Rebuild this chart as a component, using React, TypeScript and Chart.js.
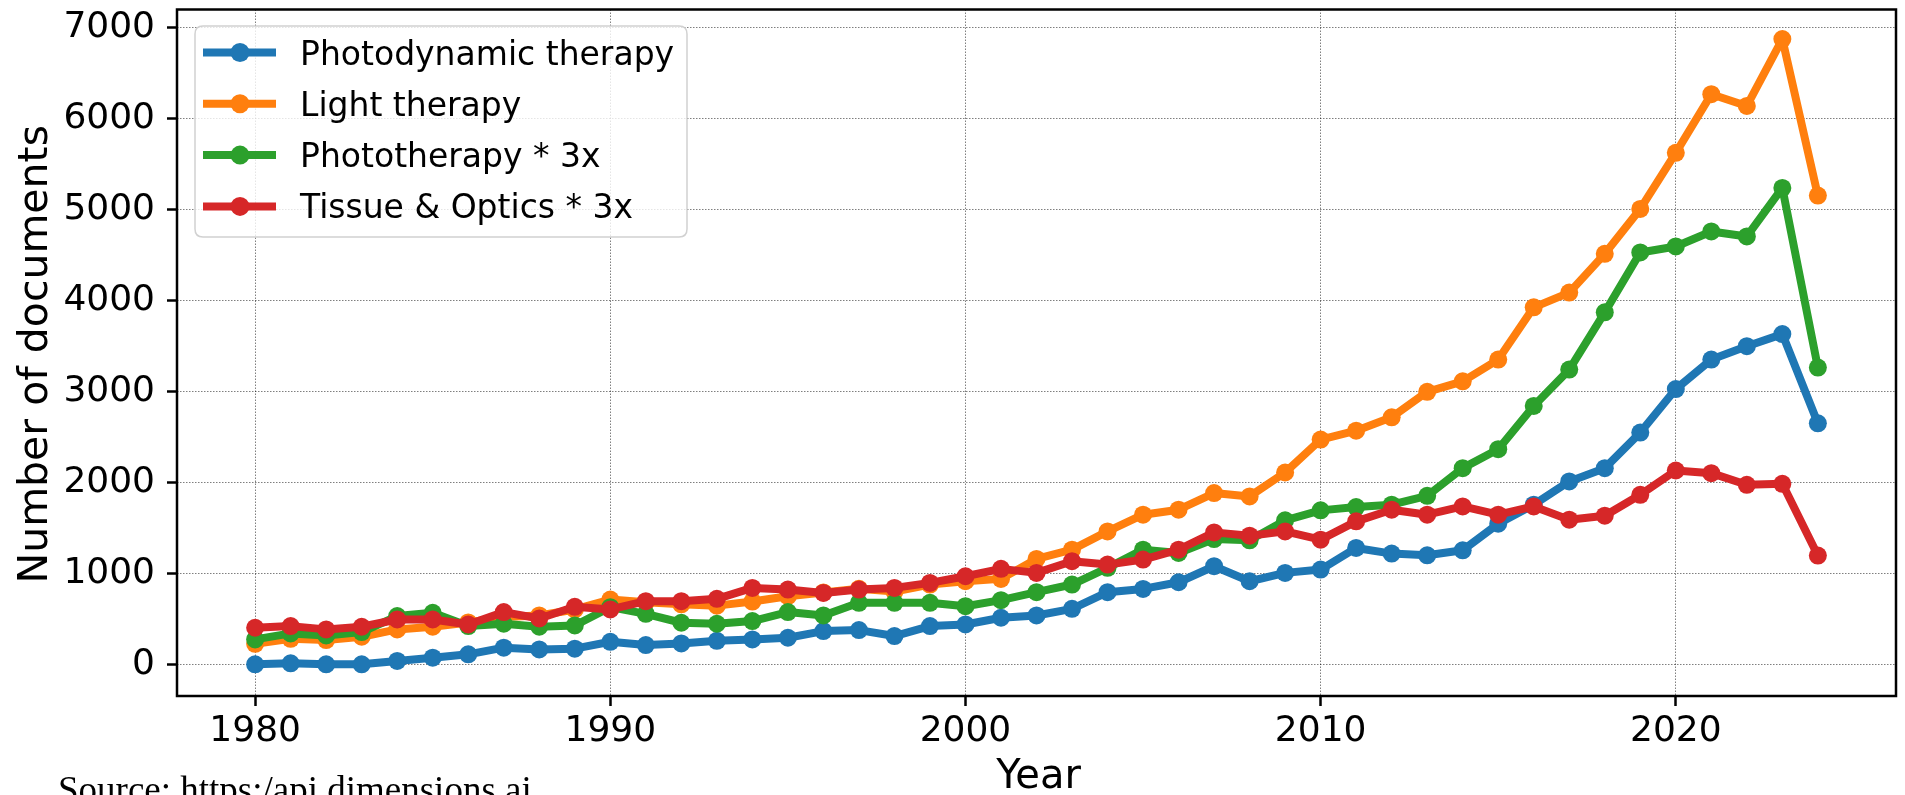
import React, { useEffect, useRef } from "react";
import { Chart, registerables } from "chart.js";

Chart.register(...registerables);

// ---------------- data ----------------
const years = [
  1980, 1981, 1982, 1983, 1984, 1985, 1986, 1987, 1988, 1989,
  1990, 1991, 1992, 1993, 1994, 1995, 1996, 1997, 1998, 1999,
  2000, 2001, 2002, 2003, 2004, 2005, 2006, 2007, 2008, 2009,
  2010, 2011, 2012, 2013, 2014, 2015, 2016, 2017, 2018, 2019,
  2020, 2021, 2022, 2023, 2024,
];

const photodynamicTherapy = [
  0, 11, 0, 0, 37, 73, 110, 183, 164, 172,
  248, 212, 230, 259, 274, 292, 365, 376, 311, 420,
  438, 512, 537, 610, 793, 829, 902, 1078, 913, 1005,
  1041, 1279, 1217, 1198, 1253, 1545, 1754, 2010, 2156, 2547,
  3025, 3349, 3496, 3629, 2649,
];

const lightTherapy = [
  226, 281, 267, 303, 384, 413, 460, 520, 537, 603,
  712, 683, 660, 645, 690, 749, 790, 830, 800, 877,
  913, 939, 1158, 1260, 1461, 1644, 1699, 1882, 1845, 2108,
  2470, 2568, 2715, 2995, 3110, 3349, 3923, 4085, 4511, 5004,
  5621, 6265, 6136, 6871, 5151,
];

const phototherapy3x = [
  274, 340, 318, 354, 530, 566, 420, 446, 413, 427,
  628, 555, 457, 446, 475, 574, 537, 676, 676, 676,
  639, 705, 793, 877, 1060, 1260, 1224, 1377, 1363, 1582,
  1692, 1728, 1754, 1852, 2156, 2364, 2839, 3239, 3868, 4526,
  4592, 4757, 4702, 5235, 3261,
];

const tissueOptics3x = [
  402, 420, 384, 413, 493, 493, 438, 574, 504, 632,
  603, 694, 694, 720, 840, 822, 785, 822, 840, 895,
  968, 1049, 1005, 1133, 1096, 1151, 1260, 1450, 1414, 1461,
  1370, 1571, 1699, 1644, 1735, 1644, 1735, 1589, 1633, 1863,
  2130, 2101, 1973, 1984, 1195,
];

const seriesLabels = [
  "Photodynamic therapy",
  "Light therapy",
  "Phototherapy * 3x",
  "Tissue & Optics * 3x",
];
const seriesValues = [photodynamicTherapy, lightTherapy, phototherapy3x, tissueOptics3x];
const seriesColors = ["#1f77b4", "#ff7f0e", "#2ca02c", "#d62728"];

const xTickValues = [1980, 1990, 2000, 2010, 2020];
const yTickValues = [0, 1000, 2000, 3000, 4000, 5000, 6000, 7000];

const xAxisTitle = "Year";
const yAxisTitle = "Number of documents";
const sourceNote = "Source: https:/api.dimensions.ai";

// ---------------- styles ----------------
const W = 1905;
const H = 795;
const SANS = "'DejaVu Sans', sans-serif";
const SERIF = "'Liberation Serif', 'Times New Roman', serif";
const LINE_W = 8;
const POINT_R = 9;

const decorPlugin = {
  id: "decor",
  afterDatasetsDraw(chart: any) {
    const { ctx, chartArea: a } = chart;
    ctx.save();
    // axes frame
    ctx.strokeStyle = "#000";
    ctx.lineWidth = 2.5;
    ctx.strokeRect(a.left, a.top, a.right - a.left, a.bottom - a.top);

    // legend
    const bx = a.left + 18;
    const by = a.top + 16.5;
    const bw = 492;
    const bh = 211;
    const r = 8;
    ctx.beginPath();
    ctx.moveTo(bx + r, by);
    ctx.lineTo(bx + bw - r, by);
    ctx.quadraticCurveTo(bx + bw, by, bx + bw, by + r);
    ctx.lineTo(bx + bw, by + bh - r);
    ctx.quadraticCurveTo(bx + bw, by + bh, bx + bw - r, by + bh);
    ctx.lineTo(bx + r, by + bh);
    ctx.quadraticCurveTo(bx, by + bh, bx, by + bh - r);
    ctx.lineTo(bx, by + r);
    ctx.quadraticCurveTo(bx, by, bx + r, by);
    ctx.closePath();
    ctx.fillStyle = "rgba(255,255,255,0.8)";
    ctx.fill();
    ctx.strokeStyle = "rgba(204,204,204,0.9)";
    ctx.lineWidth = 1.5;
    ctx.stroke();

    ctx.font = `33px ${SANS}`;
    ctx.textAlign = "left";
    ctx.textBaseline = "alphabetic";
    seriesLabels.forEach((label, i) => {
      const cy = by + 26.5 + i * 51.3;
      ctx.strokeStyle = seriesColors[i];
      ctx.lineWidth = LINE_W;
      ctx.lineCap = "butt";
      ctx.beginPath();
      ctx.moveTo(bx + 8, cy);
      ctx.lineTo(bx + 81, cy);
      ctx.stroke();
      ctx.fillStyle = seriesColors[i];
      ctx.beginPath();
      ctx.arc(bx + 45, cy, POINT_R + 0.5, 0, Math.PI * 2);
      ctx.fill();
      ctx.fillStyle = "#000";
      ctx.fillText(label, bx + 105, cy + 12);
    });
    ctx.restore();
  },
  afterDraw(chart: any) {
    const { ctx, chartArea: a } = chart;
    ctx.save();
    ctx.fillStyle = "#000";
    // x axis title
    ctx.font = `40px ${SANS}`;
    ctx.textAlign = "center";
    ctx.textBaseline = "alphabetic";
    ctx.fillText(xAxisTitle, (a.left + a.right) / 2 + 2, 788);
    // y axis title
    ctx.save();
    ctx.font = `41px ${SANS}`;
    ctx.translate(47, (a.top + a.bottom) / 2 + 1.5);
    ctx.rotate(-Math.PI / 2);
    ctx.fillText(yAxisTitle, 0, 0);
    ctx.restore();
    // source note (partly cut at bottom edge)
    ctx.font = `37px ${SERIF}`;
    ctx.textAlign = "left";
    ctx.fillText(sourceNote, 58, 802);
    ctx.restore();
  },
};

export default function App() {
  const canvasRef = useRef<HTMLCanvasElement | null>(null);

  useEffect(() => {
    const canvas = canvasRef.current;
    if (!canvas) return;
    const datasets = seriesLabels.map((label, i) => ({
      label,
      data: years.map((yr, j) => ({ x: yr, y: seriesValues[i][j] })),
      borderColor: seriesColors[i],
      backgroundColor: seriesColors[i],
      borderWidth: LINE_W,
      borderJoinStyle: "round" as const,
      pointRadius: POINT_R,
      pointBorderWidth: 0,
      pointBackgroundColor: seriesColors[i],
      pointHoverRadius: POINT_R,
      tension: 0,
      fill: false,
      order: seriesLabels.length - i,
    }));

    const chart = new Chart(canvas, {
      type: "line",
      data: { datasets },
      plugins: [decorPlugin],
      options: {
        responsive: false,
        animation: false,
        devicePixelRatio: 1,
        layout: { padding: { top: 9.5, right: 2, left: 0, bottom: 0 } },
        plugins: {
          legend: { display: false },
          tooltip: { enabled: false },
          title: { display: false },
        },
        scales: {
          x: {
            type: "linear",
            min: 1977.8,
            max: 2026.2,
            afterBuildTicks: (scale: any) => {
              scale.ticks = xTickValues.map((v) => ({ value: v }));
            },
            afterFit: (scale: any) => {
              scale.height = 99;
              scale.paddingLeft = 0;
              scale.paddingRight = 0;
            },
            ticks: {
              callback: (v: any) => String(v),
              font: { family: SANS, size: 36 },
              color: "#000",
              padding: 4,
              maxRotation: 0,
              autoSkip: false,
            },
            grid: {
              color: "rgba(0,0,0,0.5)",
              lineWidth: 1,
              tickColor: "#000",
              tickWidth: 2.5,
              tickLength: 10,
            },
            border: { display: false, dash: [1.5, 1.5] },
          },
          y: {
            type: "linear",
            min: -348,
            max: 7196,
            afterBuildTicks: (scale: any) => {
              scale.ticks = yTickValues.map((v) => ({ value: v }));
            },
            afterFit: (scale: any) => {
              scale.width = 177;
              scale.paddingTop = 0;
              scale.paddingBottom = 0;
            },
            ticks: {
              callback: (v: any) => String(v),
              font: { family: SANS, size: 36 },
              color: "#000",
              padding: 12,
              autoSkip: false,
            },
            grid: {
              color: "rgba(0,0,0,0.5)",
              lineWidth: 1,
              tickColor: "#000",
              tickWidth: 2.5,
              tickLength: 10,
            },
            border: { display: false, dash: [1.5, 1.5] },
          },
        },
      },
    });
    return () => chart.destroy();
  }, []);

  return (
    <div
      style={{
        position: "fixed",
        left: 0,
        top: 0,
        width: W,
        height: H,
        overflow: "hidden",
        background: "#fff",
      }}
    >
      <canvas ref={canvasRef} width={W} height={H} style={{ width: W, height: H, display: "block" }} />
    </div>
  );
}
